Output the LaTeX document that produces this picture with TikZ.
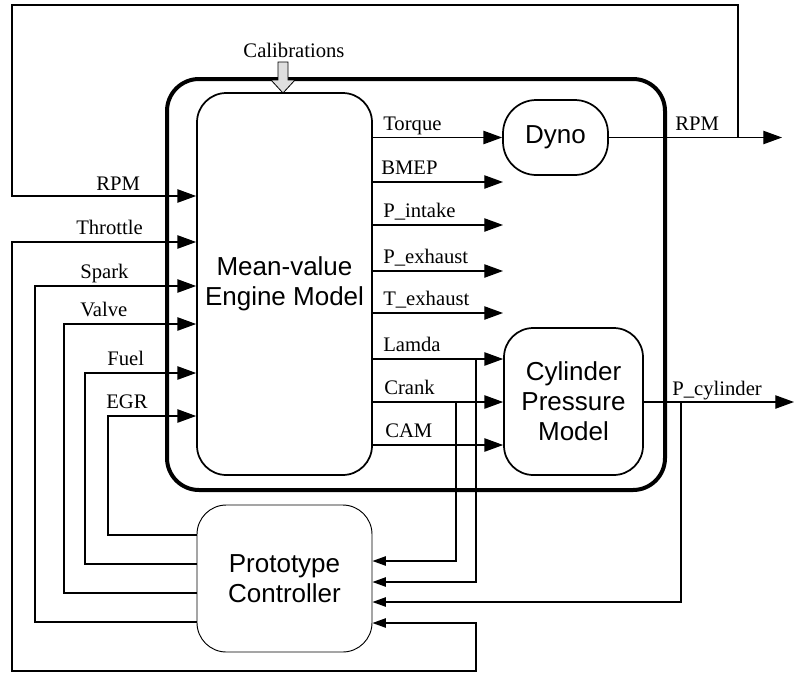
\documentclass[tikz,border=0pt]{standalone}
\usepackage{fontspec}
\setmainfont{Liberation Serif}
\setsansfont{Liberation Sans}
\usetikzlibrary{arrows.meta}

\tikzset{
	sig/.style={line width=0.9pt,-{Triangle[length=14pt,width=10pt]}},
	fb/.style={line width=0.9pt,-{Triangle[length=10pt,width=7pt]}},
	lbl/.style={anchor=base west,inner sep=0pt,font=\fontsize{15.5}{18}\selectfont},
	blk/.style={draw,line width=1.3pt,rounded corners=22pt,align=center,inner sep=0pt,font=\fontsize{19.5}{22.5}\selectfont\sffamily},
}

\begin{document}
\begin{tikzpicture}[x=0.75pt,y=0.75pt,yscale=-1,xscale=1]
	\useasboundingbox (0,0) rectangle (795,675);
	% blocks
	\node (frame) [draw,line width=3pt,rounded corners=24pt,minimum width=373.5pt,minimum height=308.25pt] at (416,284.5) {};
	\node (engine) [blk,minimum width=131.25pt,minimum height=286.5pt] at (284.5,284) {Mean-value\\Engine Model};
	\node (dyno) [blk,rounded corners=25pt,minimum width=78.75pt,minimum height=56.25pt] at (555.5,137.5) {Dyno};
	\node (cyl) [blk,minimum width=104.25pt,minimum height=110.25pt] at (573.5,401.5) {Cylinder\\Pressure\\Model};
	\node (ctrl) [blk,line width=0.7pt,minimum width=131.25pt,minimum height=110.25pt] at (284.5,578.5) {Prototype\\Controller};
	% calibrations
	\node (calib) [anchor=base,inner sep=0pt,font=\fontsize{15.5}{18}\selectfont] at (294,57) {Calibrations};
	\draw [fill=gray!25,line width=0.6pt] (278,62) -- (288,62) -- (288,80) -- (295,80) -- (283,93) -- (271,80) -- (278,80) -- cycle ;
	% free ends and taps
	\coordinate (bmep) at (503,182);
	\coordinate (pint) at (503,225);
	\coordinate (pexh) at (503,271);
	\coordinate (texh) at (503,313);
	\coordinate (rpmout) at (782,137.5);
	\coordinate (rpmtap) at (738,137.5);
	\coordinate (pcylout) at (794,402);
	\coordinate (pcyltap) at (681,402);
	\coordinate (lamtap) at (476,359);
	\coordinate (cranktap) at (456,402);
	% engine outputs
	\draw [sig] (engine.east |- dyno.west) -- (dyno.west) ;
	\draw [sig] (engine.east |- bmep) -- (bmep) ;
	\draw [sig] (engine.east |- pint) -- (pint) ;
	\draw [sig] (engine.east |- pexh) -- (pexh) ;
	\draw [sig] (engine.east |- texh) -- (texh) ;
	\draw [sig] (engine.east |- lamtap) -- (cyl.west |- lamtap) ;
	\draw [sig] (engine.east |- cranktap) -- (cyl.west |- cranktap) ;
	\draw [sig] (engine.east |- 0,445) -- (cyl.west |- 0,445) ;
	\draw [sig] (dyno.east) -- (rpmout) ;
	\draw [sig] (cyl.east |- pcylout) -- (pcylout) ;
	% feedback to controller
	\draw [fb] (lamtap) |- (ctrl.east |- 0,582) ;
	\draw [fb] (cranktap) |- (ctrl.east |- 0,561) ;
	\draw [fb] (pcyltap) |- (ctrl.east |- 0,602) ;
	% engine inputs
	\draw [sig] (rpmtap) |- (12,5) |- (engine.west |- 0,196) ;
	\draw [line width=0.9pt,{Triangle[length=10pt,width=7pt]}-{Triangle[length=14pt,width=10pt]}] (ctrl.east |- 0,623) -- (476,623) |- (12,671) |- (engine.west |- 0,242) ;
	\draw [sig] (ctrl.west |- 0,622) -| (35,286) -- (engine.west |- 0,286) ;
	\draw [sig] (ctrl.west |- 0,593) -| (64,324) -- (engine.west |- 0,324) ;
	\draw [sig] (ctrl.west |- 0,564) -| (85,373) -- (engine.west |- 0,373) ;
	\draw [sig] (ctrl.west |- 0,535) -| (108,416) -- (engine.west |- 0,416) ;
	% labels
	\node (lrpm) [lbl] at (96,190) {RPM};
	\node (lthr) [lbl] at (76,234) {Throttle};
	\node (lspk) [lbl] at (80,278) {Spark};
	\node (lvlv) [lbl] at (80,316) {Valve};
	\node (lfuel) [lbl] at (107,365) {Fuel};
	\node (legr) [lbl] at (106,408) {EGR};
	\node (ltrq) [lbl] at (383,130) {Torque};
	\node (lbmep) [lbl] at (381,174) {BMEP};
	\node (lpint) [lbl] at (383,217) {P\_intake};
	\node (lpexh) [lbl] at (383,263) {P\_exhaust};
	\node (ltexh) [lbl] at (383,305) {T\_exhaust};
	\node (llam) [lbl] at (383,351) {Lamda};
	\node (lcrank) [lbl] at (384,394) {Crank};
	\node (lcam) [lbl] at (385,437) {CAM};
	\node (lrpmout) [lbl] at (675,130) {RPM};
	\node (lpcyl) [lbl] at (672,395) {P\_cylinder};
\end{tikzpicture}
\end{document}
